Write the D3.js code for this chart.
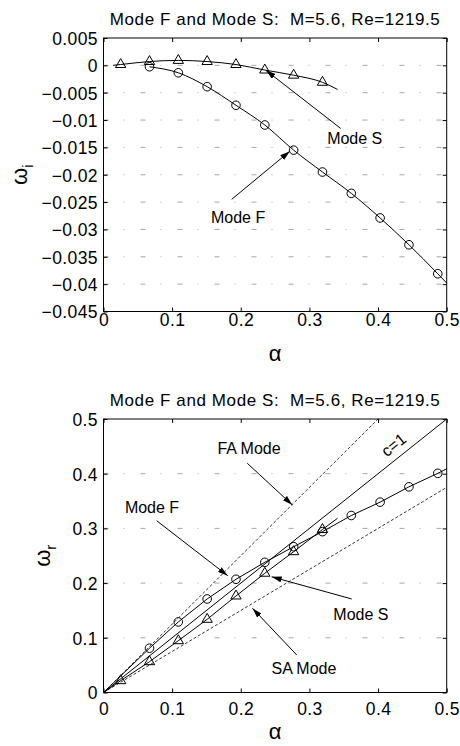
<!DOCTYPE html>
<html><head><meta charset="utf-8">
<script src="https://cdn.jsdelivr.net/npm/d3@7"></script>
<style>
body{margin:0;background:#fff}
svg text{font-family:"Liberation Sans",Arial,sans-serif;fill:#000}
.title{white-space:pre}
</style></head><body>
<svg id="chart" width="460" height="746"></svg>
<script>
// Wavenumbers at which the two modes were computed
const alphaS = [0.025, 0.067, 0.109, 0.151, 0.193, 0.235, 0.277, 0.319];
const alphaF = [0.067, 0.109, 0.151, 0.193, 0.235, 0.277, 0.319, 0.361, 0.403, 0.445, 0.487];

// Growth rates (omega_i)
const omegaIS = [0.00015, 0.0007, 0.0009, 0.0007, 0.00015, -0.00086, -0.0018, -0.0031];
const omegaIF = [-0.00026, -0.00136, -0.0039, -0.0073, -0.0109, -0.0155, -0.0195, -0.0234, -0.0279, -0.0328, -0.0381];
// continuous curve end points for omega_i
const omegaISStart = [0.014, 0.0], omegaISEnd = [0.341, -0.0044];
const omegaIFEnd = [0.5, -0.0398];

// Frequencies (omega_r)
const omegaRS = [0.0216, 0.0563, 0.0947, 0.1338, 0.1764, 0.218, 0.2574, 0.298];
const omegaRF = [0.081, 0.129, 0.171, 0.207, 0.238, 0.2665, 0.294, 0.3236, 0.348, 0.376, 0.4007];
const omegaRSEnd = [0.341, 0.3185];
const omegaRFEnd = [0.5, 0.409];

// Phase-speed reference rays: fast acoustic, c=1, slow acoustic
const refNames = ["FA", "c1", "SA"];
const refSpeeds = [1.25, 1.0, 0.75];

// Tick values
const xTicks = [0, 0.1, 0.2, 0.3, 0.4, 0.5];
const yTicksTop = [0.005, 0, -0.005, -0.01, -0.015, -0.02, -0.025, -0.03, -0.035, -0.04, -0.045];
const yTicksBottom = [0, 0.1, 0.2, 0.3, 0.4, 0.5];

const titleText = "Mode F and Mode S:  M=5.6, Re=1219.5";

const svg = d3.select("#chart");
const L = 103.5, R = 446.7;

svg.append("defs").append("marker")
  .attr("id", "arr").attr("markerUnits", "userSpaceOnUse")
  .attr("viewBox", "0 0 10 6").attr("refX", 10).attr("refY", 3)
  .attr("markerWidth", 10).attr("markerHeight", 6).attr("orient", "auto")
  .append("path").attr("d", "M0,0 L10,3 L0,6 Z").attr("fill", "#000");

function panel(cfg) {
  const x = d3.scaleLinear().domain([0, 0.5]).range([L, R]);
  const y = d3.scaleLinear().domain(cfg.yDomain).range([cfg.bottom, cfg.top]);
  const g = svg.append("g");

  // dotted horizontal grid
  g.append("g").selectAll("line").data(cfg.yTicks.filter(v => v !== cfg.yDomain[0] && v !== cfg.yDomain[1]))
    .join("line").attr("x1", L).attr("x2", R)
    .attr("y1", d => y(d)).attr("y2", d => y(d))
    .attr("stroke", "#a8a8a8").attr("stroke-width", 1).attr("stroke-dasharray", "5,15,1,16");

  // axes with inward ticks on all four sides
  const tk = 4;
  const axB = d3.axisBottom(x).tickValues(xTicks).tickSize(-tk).tickFormat(d3.format("~g"));
  const axT = d3.axisTop(x).tickValues(xTicks).tickSize(-tk).tickFormat("");
  const axL = d3.axisLeft(y).tickValues(cfg.yTicks).tickSize(-tk).tickFormat(d3.format("~g"));
  const axR = d3.axisRight(y).tickValues(cfg.yTicks).tickSize(-tk).tickFormat("");
  const style = a => {
    a.select(".domain").remove();
    a.selectAll("line").attr("stroke", "#000");
    a.selectAll("text").attr("font-size", 17.5).attr("letter-spacing", "0.4px")
      .attr("font-family", "Liberation Sans, Arial, sans-serif").attr("fill", "#000");
  };
  g.append("g").attr("transform", `translate(0,${cfg.bottom})`).call(axB).call(style)
    .selectAll("text").attr("y", cfg.xLabelOffset).attr("dy", 0);
  g.append("g").attr("transform", `translate(0,${cfg.top})`).call(axT).call(style);
  g.append("g").attr("transform", `translate(${L},0)`).call(axL).call(style)
    .selectAll("text").attr("x", -5.5).attr("dy", "0.36em");
  g.append("g").attr("transform", `translate(${R},0)`).call(axR).call(style);
  g.append("rect").attr("x", L).attr("y", cfg.top).attr("width", R - L).attr("height", cfg.bottom - cfg.top)
    .attr("fill", "none").attr("stroke", "#000").attr("stroke-width", 1);

  // title and axis labels
  g.append("text").attr("class", "title").attr("x", (L + R) / 2).attr("y", cfg.top - 13.5).attr("text-anchor", "middle")
    .attr("font-size", 17).attr("letter-spacing", "0.6px").text(titleText);
  g.append("text").attr("x", (L + R) / 2).attr("y", cfg.bottom + cfg.alphaOffset).attr("text-anchor", "middle")
    .attr("font-family", "Liberation Serif, serif").attr("font-size", 22).text("α");
  const yl = g.append("text").attr("transform", `translate(${cfg.yLabelX},${(cfg.top + cfg.bottom) / 2}) rotate(-90)`)
    .attr("text-anchor", "middle").attr("font-family", "Liberation Serif, serif").attr("font-size", 22);
  yl.append("tspan").text("ω");
  yl.append("tspan").attr("dy", 6).attr("font-family", "Liberation Sans, Arial, sans-serif").attr("font-size", 15).text(cfg.sub);

  return {g, x, y};
}

function drawSeries(p, pts, markers, shape, curve) {
  const line = d3.line().x(d => p.x(d[0])).y(d => p.y(d[1])).curve(curve);
  p.g.append("path").attr("d", line(pts)).attr("fill", "none").attr("stroke", "#000").attr("stroke-width", 1);
  if (shape === "circle") {
    p.g.append("g").selectAll("circle").data(markers).join("circle")
      .attr("cx", d => p.x(d[0])).attr("cy", d => p.y(d[1])).attr("r", 4.3)
      .attr("fill", "none").attr("stroke", "#000").attr("stroke-width", 1);
  } else {
    const sym = d3.symbol(d3.symbolTriangle).size(46);
    p.g.append("g").selectAll("path").data(markers).join("path")
      .attr("d", sym).attr("transform", d => `translate(${p.x(d[0])},${p.y(d[1])})`)
      .attr("fill", "none").attr("stroke", "#000").attr("stroke-width", 1);
  }
}

function note(p, text, tx, ty, from, to) {
  if (from) {
    p.g.append("line").attr("x1", p.x(from[0])).attr("y1", p.y(from[1]))
      .attr("x2", p.x(to[0])).attr("y2", p.y(to[1]))
      .attr("stroke", "#000").attr("stroke-width", 1).attr("marker-end", "url(#arr)");
  }
  p.g.append("text").attr("x", p.x(tx)).attr("y", p.y(ty)).attr("dy", "0.36em")
    .attr("text-anchor", "middle").attr("font-size", 16).text(text);
}

// ---- growth rate panel ----
const growthPanel = panel({top: 38, bottom: 311.5, yDomain: [-0.045, 0.005], yTicks: yTicksTop,
  xLabelOffset: 14, alphaOffset: 49, yLabelX: 27, sub: "i"});
const sI = alphaS.map((a, i) => [a, omegaIS[i]]);
const fI = alphaF.map((a, i) => [a, omegaIF[i]]);
drawSeries(growthPanel, [omegaISStart, ...sI, omegaISEnd], sI, "tri", d3.curveMonotoneX);
drawSeries(growthPanel, [...fI, omegaIFEnd], fI, "circle", d3.curveMonotoneX);
note(growthPanel, "Mode S", 0.366, -0.0133, [0.3456, -0.01154], [0.2365, -0.0009]);
note(growthPanel, "Mode F", 0.196, -0.0277, [0.1868, -0.02449], [0.2715, -0.0157]);

// ---- frequency panel ----
const freqPanel = panel({top: 419, bottom: 692.5, yDomain: [0, 0.5], yTicks: yTicksBottom,
  xLabelOffset: 22.5, alphaOffset: 46, yLabelX: 50, sub: "r"});
refSpeeds.forEach((c, i) => {
  const aEnd = Math.min(0.5, 0.5 / c);
  freqPanel.g.append("line").attr("x1", freqPanel.x(0)).attr("y1", freqPanel.y(0))
    .attr("x2", freqPanel.x(aEnd)).attr("y2", freqPanel.y(c * aEnd))
    .attr("stroke", "#000").attr("stroke-width", refNames[i] === "c1" ? 1 : 0.8)
    .attr("stroke-dasharray", refNames[i] === "c1" ? null : "3,2");
});
const sR = alphaS.map((a, i) => [a, omegaRS[i]]);
const fR = alphaF.map((a, i) => [a, omegaRF[i]]);
drawSeries(freqPanel, [[0, 0], ...sR, omegaRSEnd], sR, "tri", d3.curveLinear);
drawSeries(freqPanel, [[0, 0], ...fR, omegaRFEnd], fR, "circle", d3.curveLinear);
note(freqPanel, "FA Mode", 0.212, 0.447, [0.2095, 0.419], [0.275, 0.343]);
note(freqPanel, "Mode F", 0.0707, 0.339, [0.0775, 0.314], [0.181, 0.2135]);
note(freqPanel, "Mode S", 0.375, 0.1435, [0.3616, 0.171], [0.245, 0.2115]);
note(freqPanel, "SA Mode", 0.292, 0.0448, [0.2815, 0.0686], [0.217, 0.154]);
// label along the c=1 ray
freqPanel.g.append("text")
  .attr("transform", `translate(${freqPanel.x(0.4225)},${freqPanel.y(0.453)}) rotate(${-Math.atan2(freqPanel.y(0) - freqPanel.y(0.5), freqPanel.x(0.5) - freqPanel.x(0)) * 180 / Math.PI})`)
  .attr("text-anchor", "middle").attr("dy", "0.36em").attr("font-size", 16).text("c=1");
</script>
</body></html>
